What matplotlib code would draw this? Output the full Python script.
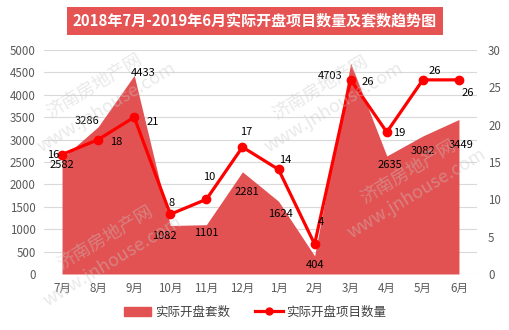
import numpy as np
import matplotlib
matplotlib.use('Agg')
import matplotlib.pyplot as plt
from matplotlib.patches import Patch
from matplotlib.lines import Line2D

plt.rcParams['font.family'] = ['Noto Sans CJK SC', 'DejaVu Sans']

months = ['7月', '8月', '9月', '10月', '11月', '12月', '1月', '2月', '3月', '4月', '5月', '6月']
units = [2582, 3286, 4433, 1082, 1101, 2281, 1624, 404, 4703, 2635, 3082, 3449]
projects = [16, 18, 21, 8, 10, 17, 14, 4, 26, 19, 26, 26]

# label offsets in pixels, tuned by eye
unit_off = [(0, -7), (-11, 6), (9, 2), (-6, -10), (0, -8), (4, -20),
            (2, -13), (0, -9), (-21, -13), (3, -9), (0, -15), (2, -26)]
proj_off = [(-9, 0), (18, -2), (19, -5), (1, 11), (3, 22), (4, 15),
            (7, 9), (6, 22), (17, -2), (12, -1), (12, 9), (9, -13)]

area_c = '#E35252'
line_c = '#FF0000'

fig = plt.figure(figsize=(5.1, 3.3), dpi=100)
ax = fig.add_axes([44/510, 56/330, 433/510, 224/330])
x = np.arange(len(months))

ax.fill_between(x, units, 0, color=area_c, lw=0, zorder=2)
ax.set_xlim(-0.5, len(months) - 0.5)
ax.set_ylim(0, 5000)
ax.set_yticks(range(0, 5001, 500))
ax.set_xticks(x)
ax.set_xticklabels(months)
ax.grid(axis='y', color='#D9D9D9', lw=0.8, zorder=0)
ax.set_axisbelow(True)
ax.tick_params(length=0, labelsize=8.3, colors='#595959', pad=6)
for s in ax.spines.values():
    s.set_visible(False)

ax2 = ax.twinx()
ax2.plot(x, projects, color=line_c, lw=2.3, marker='o', ms=6, zorder=4)
ax2.set_ylim(0, 30)
ax2.set_yticks(range(0, 31, 5))
ax2.tick_params(length=0, labelsize=8.3, colors='#595959', pad=8)
for s in ax2.spines.values():
    s.set_visible(False)

for i, v in enumerate(units):
    ax.annotate(str(v), (x[i], v), xytext=unit_off[i], textcoords='offset pixels',
                ha='center', va='center', fontsize=8, color='black', zorder=5)
for i, v in enumerate(projects):
    ax2.annotate(str(v), (x[i], v), xytext=proj_off[i], textcoords='offset pixels',
                 ha='center', va='center', fontsize=8, color='black', zorder=5)

# watermark
for cx, cy, wx, wy in [(94, 86, 107, 108), (105, 238, 113, 262),
                       (320, 88, 334, 108), (408, 172, 417, 194)]:
    fig.text(cx/510, 1 - cy/330, '济南房地产网', rotation=31, fontsize=13,
             color='#C8C8C8', alpha=0.4, ha='center', va='center')
    fig.text(wx/510, 1 - wy/330, 'www.jnhouse.com', rotation=31, fontsize=13,
             color='#C8C8C8', alpha=0.4, ha='center', va='center')

fig.text(0.5, 1 - 21/330, '2018年7月-2019年6月实际开盘项目数量及套数趋势图',
         ha='center', va='center', fontsize=10.8, fontweight='bold', color='white',
         bbox=dict(boxstyle='square,pad=0.4', fc='#E55353', ec='none'))

handles = [Patch(color=area_c, label='实际开盘套数'),
           Line2D([], [], color=line_c, lw=2.3, marker='o', ms=5, label='实际开盘项目数量')]
fig.legend(handles=handles, loc='center', bbox_to_anchor=(0.5, 1 - 312/330), ncol=2,
           frameon=False, fontsize=9, labelcolor='#404040', handlelength=2.2,
           columnspacing=2.0, handletextpad=0.3)

fig.savefig('out.png', dpi=100)
